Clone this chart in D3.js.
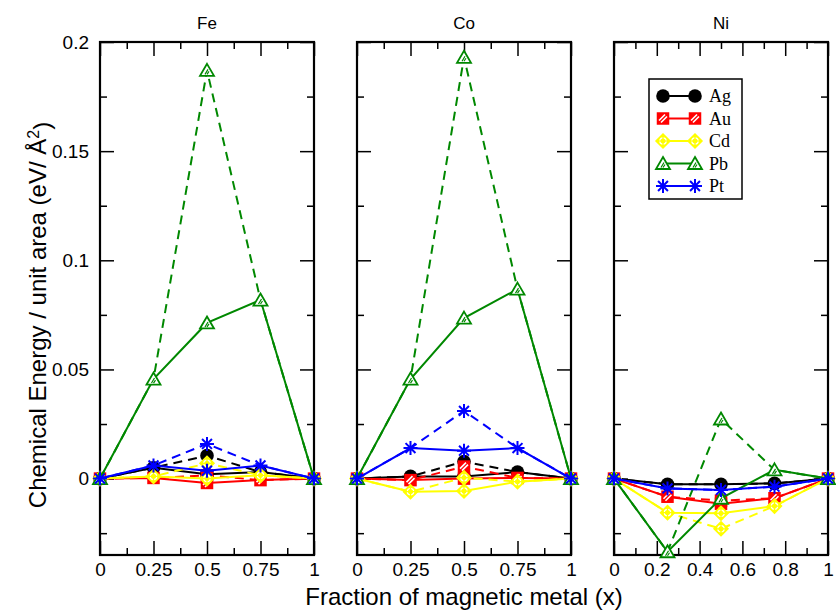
<!DOCTYPE html>
<html>
<head>
<meta charset="utf-8">
<script src="https://cdn.jsdelivr.net/npm/d3@7"></script>
<style>
  html, body { margin: 0; padding: 0; background: #fff; }
  svg { display: block; }
</style>
</head>
<body>
<svg id="chart" width="836" height="614"></svg>
<script>
// Composition x for every panel
const xs = [0, 0.25, 0.5, 0.75, 1];

// Series order (one row per dopant in each panel array below)
const seriesNames = ["Ag", "Au", "Cd", "Pb", "Pt"];
const seriesColors = ["#000000", "#ff0000", "#ffff00", "#008800", "#0000ff"];

// Fe host: solid and dashed curves
const feSolid = [
  [0, 0.005, 0.002, 0.003, 0],
  [0, 0.0003, -0.002, -0.0007, 0],
  [0, 0.001, 0.0, 0.0015, 0],
  [0, 0.0456, 0.0713, 0.0818, 0],
  [0, 0.006, 0.0036, 0.006, 0]
];
const feDashed = [
  [0, 0.005, 0.0105, 0.003, 0],
  [0, 0.0003, 0.0015, -0.0007, 0],
  [0, 0.001, 0.007, 0.0015, 0],
  [0, 0.0456, 0.187, 0.0818, 0],
  [0, 0.006, 0.0159, 0.006, 0]
];

// Co host
const coSolid = [
  [0, 0.001, 0.001, 0.003, 0],
  [0, -0.0007, 0.0, 0.0003, 0],
  [0, -0.006, -0.0057, -0.0014, 0],
  [0, 0.0456, 0.0735, 0.0868, 0],
  [0, 0.014, 0.0128, 0.014, 0]
];
const coDashed = [
  [0, 0.001, 0.0078, 0.003, 0],
  [0, -0.0007, 0.0055, 0.0003, 0],
  [0, -0.006, 0.0004, -0.0014, 0],
  [0, 0.0456, 0.193, 0.0868, 0],
  [0, 0.014, 0.031, 0.014, 0]
];

// Ni host
const niSolid = [
  [0, -0.0026, -0.0026, -0.0022, 0],
  [0, -0.0083, -0.0115, -0.009, 0],
  [0, -0.0156, -0.0159, -0.0126, 0],
  [0, -0.0335, -0.009, 0.004, 0],
  [0, -0.0045, -0.0052, -0.0037, 0]
];
const niDashed = [
  [0, -0.0026, -0.0026, -0.0022, 0],
  [0, -0.0083, -0.0101, -0.009, 0],
  [0, -0.0156, -0.023, -0.0126, 0],
  [0, -0.0335, 0.0273, 0.004, 0],
  [0, -0.0045, -0.0052, -0.0037, 0]
];

// Axis ticks
const yMajor = [0, 0.05, 0.1, 0.15, 0.2];
const yMinor = [-0.025, 0.025, 0.075, 0.125, 0.175];
const yLabels = ["0", "0.05", "0.1", "0.15", "0.2"];
const xMajorQ = [0, 0.25, 0.5, 0.75, 1];
const xMinorQ = [0.125, 0.375, 0.625, 0.875];
const xLabelsQ = ["0", "0.25", "0.5", "0.75", "1"];
const xMajorF = [0, 0.2, 0.4, 0.6, 0.8, 1];
const xMinorF = [0.1, 0.3, 0.5, 0.7, 0.9];
const xLabelsF = ["0", "0.2", "0.4", "0.6", "0.8", "1"];

const panels = [
  { title: "Fe", left: 100, right: 314, solid: feSolid, dashed: feDashed,
    major: xMajorQ, minor: xMinorQ, labels: xLabelsQ, yText: true },
  { title: "Co", left: 357, right: 571, solid: coSolid, dashed: coDashed,
    major: xMajorQ, minor: xMinorQ, labels: xLabelsQ, yText: false },
  { title: "Ni", left: 614, right: 828, solid: niSolid, dashed: niDashed,
    major: xMajorF, minor: xMinorF, labels: xLabelsF, yText: false }
];

const plotTop = 42, plotBottom = 555;
const svg = d3.select("#chart");
const y = d3.scaleLinear().domain([-0.035, 0.2]).range([plotBottom, plotTop]);

const sans = "'Liberation Sans', Arial, sans-serif";
const serif = "'Liberation Serif', 'Times New Roman', serif";
const MAJ = 14, MIN = 7;

function marker(g, idx, cx, cy) {
  const c = seriesColors[idx];
  const m = g.append("g").attr("transform", `translate(${cx},${cy})`);
  if (idx === 0) {
    m.append("circle").attr("r", 6.8).attr("fill", c);
  } else if (idx === 1) {
    m.append("rect").attr("x", -5.5).attr("y", -5.5).attr("width", 11).attr("height", 11)
      .attr("fill", c).attr("stroke", c).attr("stroke-width", 1.5);
    m.append("line").attr("x1", -4).attr("y1", 2).attr("x2", 2).attr("y2", -4)
      .attr("stroke", "#fff").attr("stroke-width", 1.6);
    m.append("line").attr("x1", -2).attr("y1", 4).attr("x2", 4).attr("y2", -2)
      .attr("stroke", "#fff").attr("stroke-width", 1.6);
  } else if (idx === 2) {
    m.append("path").attr("d", "M0,-7L7,0L0,7L-7,0Z")
      .attr("fill", c).attr("stroke", c).attr("stroke-width", 1.5);
    m.append("circle").attr("r", 3.2).attr("fill", "none").attr("stroke", "#fff").attr("stroke-width", 1.2);
    m.append("path").attr("d", "M-5,0H5M0,-5V5").attr("stroke", c).attr("stroke-width", 1.2);
  } else if (idx === 3) {
    m.append("path").attr("d", "M0,-6.5L7,5.5L-7,5.5Z")
      .attr("fill", "#fff").attr("stroke", c).attr("stroke-width", 1.8);
    m.append("path").attr("d", "M-2,4L1,-1M0,4L2,1").attr("stroke", c).attr("stroke-width", 1.2);
  } else {
    const r = 7;
    let d = "";
    for (let k = 0; k < 4; k++) {
      const a = k * Math.PI / 4;
      d += `M${-r * Math.cos(a)},${-r * Math.sin(a)}L${r * Math.cos(a)},${r * Math.sin(a)}`;
    }
    m.append("path").attr("d", d).attr("stroke", c).attr("stroke-width", 2);
  }
}

panels.forEach(p => {
  const x = d3.scaleLinear().domain([0, 1]).range([p.left, p.right]);
  const g = svg.append("g");

  // Ticks on all four sides, pointing inward
  const bottomAxis = d3.axisBottom(x).tickValues(p.major).tickSize(-MAJ).tickPadding(8)
    .tickFormat((d, i) => p.labels[i]);
  const ga = g.append("g").attr("transform", `translate(0,${plotBottom})`).call(bottomAxis);
  const bottomMinor = d3.axisBottom(x).tickValues(p.minor).tickSize(-MIN).tickFormat("");
  const gb = g.append("g").attr("transform", `translate(0,${plotBottom})`).call(bottomMinor);
  const topMajor = d3.axisTop(x).tickValues(p.major).tickSize(-MAJ).tickFormat("");
  const gc = g.append("g").attr("transform", `translate(0,${plotTop})`).call(topMajor);
  const topMinor = d3.axisTop(x).tickValues(p.minor).tickSize(-MIN).tickFormat("");
  const gd = g.append("g").attr("transform", `translate(0,${plotTop})`).call(topMinor);

  const leftMajor = d3.axisLeft(y).tickValues(yMajor).tickSize(-MAJ).tickPadding(11)
    .tickFormat((d, i) => p.yText ? yLabels[i] : "");
  const ge = g.append("g").attr("transform", `translate(${p.left},0)`).call(leftMajor);
  const leftMinor = d3.axisLeft(y).tickValues(yMinor).tickSize(-MIN).tickFormat("");
  const gf = g.append("g").attr("transform", `translate(${p.left},0)`).call(leftMinor);
  const rightMajor = d3.axisRight(y).tickValues(yMajor).tickSize(-MAJ).tickFormat("");
  const gh = g.append("g").attr("transform", `translate(${p.right},0)`).call(rightMajor);
  const rightMinor = d3.axisRight(y).tickValues(yMinor).tickSize(-MIN).tickFormat("");
  const gi = g.append("g").attr("transform", `translate(${p.right},0)`).call(rightMinor);

  [ga, gb, gc, gd, ge, gf, gh, gi].forEach(a => {
    a.select(".domain").remove();
    a.selectAll(".tick line").attr("stroke", "#000").attr("stroke-width", 1.5);
    a.selectAll(".tick text").attr("fill", "#000").style("font-family", sans).style("font-size", "19px");
  });

  // Frame
  g.append("rect").attr("x", p.left).attr("y", plotTop)
    .attr("width", p.right - p.left).attr("height", plotBottom - plotTop)
    .attr("fill", "none").attr("stroke", "#000").attr("stroke-width", 2.2);

  // Panel title
  g.append("text").attr("x", (p.left + p.right) / 2).attr("y", 29)
    .attr("text-anchor", "middle").style("font-family", sans).style("font-size", "17px")
    .text(p.title);

  const line = d3.line().x((d, i) => x(xs[i])).y(d => y(d));

  // Curves and markers, one dopant at a time
  seriesNames.forEach((name, k) => {
    const c = seriesColors[k];
    g.append("path").datum(p.solid[k]).attr("d", line)
      .attr("fill", "none").attr("stroke", c).attr("stroke-width", 2);
    g.append("path").datum(p.dashed[k]).attr("d", line)
      .attr("fill", "none").attr("stroke", c).attr("stroke-width", 2)
      .attr("stroke-dasharray", "9,6");
    p.solid[k].forEach((v, i) => marker(g, k, x(xs[i]), y(v)));
    p.dashed[k].forEach((v, i) => {
      if (v !== p.solid[k][i]) marker(g, k, x(xs[i]), y(v));
    });
  });
});

// Legend in the Ni panel
const lg = svg.append("g");
lg.append("rect").attr("x", 649).attr("y", 79).attr("width", 93).attr("height", 120)
  .attr("fill", "#fff").attr("stroke", "#000").attr("stroke-width", 1.5);
seriesNames.forEach((name, k) => {
  const ly = 96 + k * 22.5;
  lg.append("line").attr("x1", 663).attr("x2", 695).attr("y1", ly).attr("y2", ly)
    .attr("stroke", seriesColors[k]).attr("stroke-width", 2);
  marker(lg, k, 663, ly);
  marker(lg, k, 695, ly);
  lg.append("text").attr("x", 709).attr("y", ly + 6)
    .style("font-family", serif).style("font-size", "18px").text(name);
});

// Axis titles
svg.append("text").attr("x", 464).attr("y", 605).attr("text-anchor", "middle")
  .style("font-family", sans).style("font-size", "24px")
  .text("Fraction of magnetic metal (x)");

const yt = svg.append("text")
  .attr("transform", "translate(46,315) rotate(-90)")
  .attr("text-anchor", "middle")
  .style("font-family", sans).style("font-size", "24px");
yt.append("tspan").text("Chemical Energy / unit area (eV/ Å");
yt.append("tspan").attr("dy", "-0.45em").style("font-size", "16px").text("2");
yt.append("tspan").attr("dy", "0.45em").text(")");
</script>
</body>
</html>
